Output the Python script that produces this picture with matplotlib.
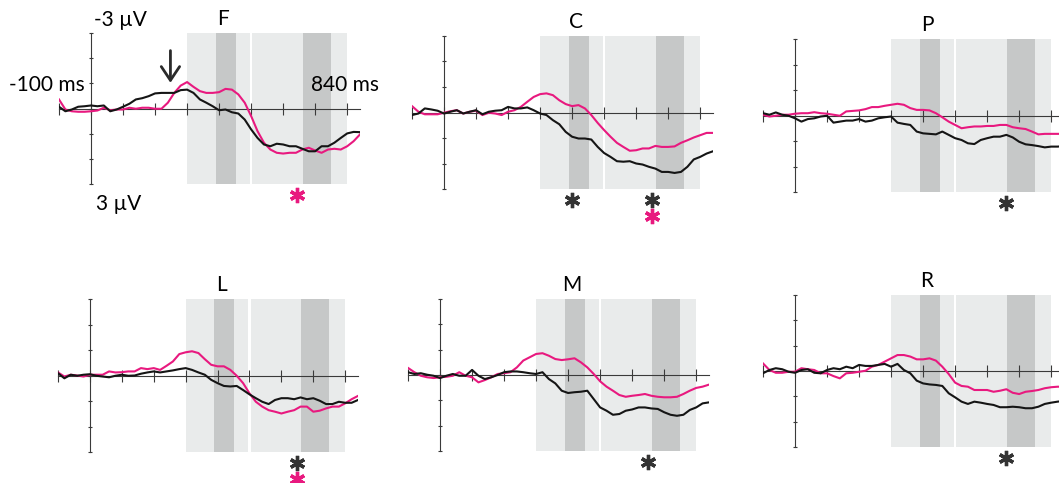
import matplotlib
matplotlib.use("Agg")
import matplotlib.pyplot as plt
import numpy as np

# ── Data ───────────────────────────────────────────────────────────────────
TIMES = np.arange(-100, 841, 20)  # ms, one sample every 20 ms

# Grand-average waveforms (µV), one pair per electrode region
WAVES = {
    "F": (
        [-0.07, 0.11, 0.04, -0.07, -0.09, -0.12, -0.09, -0.12, 0.11, 0.04, -0.07, -0.19,
         -0.36, -0.41, -0.49, -0.60, -0.62, -0.62, -0.62, -0.73, -0.75, -0.62, -0.36, -0.23,
         -0.09, 0.07, 0.04, 0.15, 0.20, 0.44, 0.83, 1.17, 1.43, 1.50, 1.40, 1.43,
         1.50, 1.50, 1.60, 1.70, 1.70, 1.50, 1.50, 1.36, 1.17, 0.99, 0.93, 0.94],
        [-0.36, 0.04, 0.11, 0.13, 0.13, 0.11, 0.08, -0.03, 0.07, 0.04, 0.04, -0.03,
         0.01, -0.03, -0.03, 0.01, 0.01, -0.23, -0.62, -0.91, -1.05, -0.86, -0.69, -0.62,
         -0.62, -0.65, -0.78, -0.75, -0.56, -0.23, 0.30, 0.90, 1.36, 1.63, 1.76, 1.79,
         1.76, 1.76, 1.63, 1.56, 1.67, 1.76, 1.63, 1.60, 1.63, 1.50, 1.30, 1.03],
    ),
    "C": (
        [0.10, 0.04, -0.16, -0.12, -0.07, 0.04, -0.03, -0.09, 0.04, -0.03, -0.09, 0.07,
         -0.03, -0.07, -0.09, -0.22, -0.16, -0.16, -0.20, -0.09, 0.04, 0.10, 0.30, 0.46,
         0.76, 0.95, 1.02, 1.02, 1.06, 1.35, 1.59, 1.74, 1.91, 1.93, 1.91, 2.00,
         2.04, 2.13, 2.20, 2.33, 2.33, 2.37, 2.33, 2.13, 1.84, 1.74, 1.61, 1.52],
        [-0.25, -0.03, 0.07, 0.07, 0.07, 0.01, -0.05, -0.09, 0.04, -0.03, -0.07, 0.10,
         0.01, 0.04, 0.10, -0.03, -0.09, -0.22, -0.42, -0.61, -0.72, -0.75, -0.68, -0.48,
         -0.33, -0.25, -0.29, -0.16, 0.10, 0.41, 0.69, 0.95, 1.19, 1.35, 1.50, 1.48,
         1.41, 1.41, 1.31, 1.35, 1.35, 1.33, 1.19, 1.09, 0.98, 0.89, 0.80, 0.80],
    ),
    "P": (
        [-0.09, -0.03, -0.12, -0.03, 0.01, 0.11, 0.24, 0.14, 0.11, 0.04, 0.01, 0.28,
         0.24, 0.20, 0.20, 0.14, 0.24, 0.20, 0.11, 0.07, 0.04, 0.28, 0.33, 0.37,
         0.63, 0.70, 0.72, 0.74, 0.63, 0.76, 0.89, 0.96, 1.09, 1.12, 0.96, 0.89,
         0.83, 0.83, 0.76, 0.86, 1.03, 1.13, 1.16, 1.20, 1.25, 1.22, 1.22, 1.20],
        [-0.03, 0.04, 0.01, -0.03, -0.03, -0.07, -0.09, -0.09, -0.13, -0.09, -0.07, -0.03,
         0.01, -0.16, -0.18, -0.20, -0.25, -0.33, -0.33, -0.38, -0.42, -0.46, -0.42, -0.29,
         -0.22, -0.22, -0.20, -0.09, 0.07, 0.24, 0.37, 0.50, 0.46, 0.43, 0.43, 0.41,
         0.41, 0.37, 0.37, 0.46, 0.50, 0.53, 0.63, 0.74, 0.72, 0.72, 0.72, 0.72],
    ),
    "L": (
        [-0.09, 0.11, -0.03, 0.01, -0.03, -0.05, 0.01, 0.04, 0.07, 0.01, -0.03, 0.01,
         0.00, -0.07, -0.12, -0.16, -0.12, -0.16, -0.20, -0.25, -0.29, -0.22, -0.12, -0.03,
         0.17, 0.30, 0.41, 0.43, 0.41, 0.57, 0.74, 0.89, 1.03, 1.12, 0.96, 0.89,
         0.89, 0.93, 0.86, 0.93, 0.89, 0.99, 1.12, 1.12, 1.03, 1.07, 1.07, 0.96],
        [-0.12, 0.04, -0.03, 0.00, 0.04, -0.03, -0.03, -0.03, -0.16, -0.12, -0.13, -0.16,
         -0.16, -0.29, -0.25, -0.29, -0.22, -0.38, -0.55, -0.84, -0.91, -0.95, -0.88, -0.64,
         -0.42, -0.36, -0.36, -0.22, 0.01, 0.30, 0.70, 1.03, 1.22, 1.36, 1.42, 1.49,
         1.42, 1.36, 1.22, 1.22, 1.42, 1.38, 1.29, 1.22, 1.22, 1.09, 0.93, 0.80],
    ),
    "M": (
        [-0.11, -0.04, -0.07, -0.01, 0.03, 0.12, 0.03, -0.04, 0.03, 0.03, -0.20, 0.03,
         0.16, 0.09, 0.00, -0.11, -0.14, -0.14, -0.11, -0.07, -0.04, -0.11, 0.16, 0.33,
         0.62, 0.71, 0.68, 0.66, 0.62, 0.95, 1.28, 1.41, 1.57, 1.54, 1.41, 1.36,
         1.28, 1.28, 1.32, 1.34, 1.47, 1.57, 1.61, 1.57, 1.38, 1.28, 1.12, 1.08],
        [-0.28, -0.11, 0.03, 0.09, 0.12, 0.09, 0.07, 0.03, -0.11, 0.03, 0.09, 0.29,
         0.20, 0.09, -0.04, -0.07, -0.11, -0.30, -0.57, -0.70, -0.83, -0.86, -0.76, -0.63,
         -0.59, -0.62, -0.66, -0.50, -0.30, -0.04, 0.25, 0.46, 0.62, 0.79, 0.86, 0.82,
         0.79, 0.75, 0.82, 0.86, 0.88, 0.88, 0.86, 0.75, 0.62, 0.51, 0.46, 0.38],
    ),
    "R": (
        [0.09, -0.04, -0.11, -0.07, 0.03, 0.07, -0.04, -0.07, 0.07, 0.09, -0.04, -0.11,
         -0.07, -0.17, -0.11, -0.24, -0.20, -0.20, -0.24, -0.28, -0.17, -0.28, -0.04, 0.09,
         0.38, 0.49, 0.53, 0.55, 0.59, 0.88, 1.04, 1.21, 1.30, 1.21, 1.25, 1.30,
         1.34, 1.43, 1.43, 1.41, 1.43, 1.47, 1.47, 1.41, 1.30, 1.25, 1.21, 1.18],
        [-0.30, -0.04, 0.07, 0.07, 0.03, 0.03, -0.11, -0.07, -0.04, 0.09, 0.09, 0.20,
         0.29, 0.09, 0.07, 0.03, -0.01, -0.17, -0.24, -0.37, -0.50, -0.63, -0.63, -0.57,
         -0.46, -0.46, -0.50, -0.41, -0.17, 0.12, 0.46, 0.59, 0.62, 0.75, 0.75, 0.75,
         0.82, 0.78, 0.72, 0.86, 0.91, 0.82, 0.79, 0.75, 0.68, 0.64, 0.62, 0.62],
    ),
}

# Analysis windows (ms): broad windows and the narrower windows inside them
BROAD_WINDOWS = [(300, 496), (504, 800)]
NARROW_WINDOWS = [(390, 452), (662, 750)]

# Significant effects: (time in ms, condition, row below the panel)
SIG_MARKS = {
    "F": [(642, "pink", 0)],
    "C": [(400, "black", 0), (650, "black", 0), (650, "pink", 1)],
    "P": [(660, "black", 0)],
    "L": [(650, "black", 0), (650, "pink", 1)],
    "M": [(650, "black", 0)],
    "R": [(660, "black", 0)],
}

# ── Style ──────────────────────────────────────────────────────────────────
BLACK = "#151515"
PINK = "#e8197f"
STAR_BLACK = "#333333"
AXIS = "#3a3a3a"
LIGHT = "#e9ebeb"
DARK = "#c6c8c8"
COLORS = {"black": STAR_BLACK, "pink": PINK}
FS = 15

plt.rcParams["font.family"] = ["Lato", "DejaVu Sans"]

W, H = 1059, 483
# panel boxes in pixels: left (-100 ms), top (-3 µV), right (840 ms), bottom (3 µV)
BOXES = {
    "F": (59, 33, 360, 184),
    "C": (412, 36, 713, 189),
    "P": (763, 39, 1064, 192),
    "L": (58, 299, 358, 452),
    "M": (408, 299, 709, 451),
    "R": (763, 295, 1064, 447),
}

fig = plt.figure(figsize=(W / 100, H / 100), dpi=100)

for name, (x0, y0, x1, y1) in BOXES.items():
    ax = fig.add_axes([x0 / W, 1 - y1 / H, (x1 - x0) / W, (y1 - y0) / H])
    ax.set_xlim(-100, 840)
    ax.set_ylim(3, -3)  # negative up
    ax.patch.set_alpha(0)

    for a, b in BROAD_WINDOWS:
        ax.axvspan(a, b, color=LIGHT, lw=0, zorder=0)
    for a, b in NARROW_WINDOWS:
        ax.axvspan(a, b, color=DARK, lw=0, zorder=0.5)

    black, pink = WAVES[name]
    ax.plot(TIMES, black, color=BLACK, lw=1.5, zorder=4)
    ax.plot(TIMES, pink, color=PINK, lw=1.5, zorder=3)

    # axes crossing at (0 ms, 0 µV)
    for side in ("top", "right"):
        ax.spines[side].set_visible(False)
    ax.spines["bottom"].set_position(("data", 0))
    ax.spines["left"].set_position(("data", 0))
    ax.spines["bottom"].set_bounds(-100, 840)
    ax.spines["left"].set_bounds(-3, 3)
    for side in ("bottom", "left"):
        ax.spines[side].set_color(AXIS)
        ax.spines[side].set_linewidth(0.8)
        ax.spines[side].set_zorder(2)
    ax.set_xticks(np.arange(-100, 801, 100))
    ax.set_yticks(np.arange(-3, 4, 1))
    ax.tick_params(axis="x", direction="inout", length=8, width=0.8, color=AXIS,
                   labelbottom=False)
    ax.tick_params(axis="y", direction="inout", length=3.5, width=0.8, color=AXIS,
                   labelleft=False)

    ax.text(412, -3.55, name, ha="center", va="center", fontsize=FS, clip_on=False)

    for t, cond, row in SIG_MARKS[name]:
        ax.plot(t, 3.45 + 0.6 * row, marker=(6, 2, 0), ms=11, mew=2.4,
                color=COLORS[cond], clip_on=False, zorder=5)

    if name == "F":
        ax.text(8, -3.5, "-3 \u00b5V", ha="left", va="center", fontsize=FS, clip_on=False)
        ax.text(15, 3.8, "3 \u00b5V", ha="left", va="center", fontsize=FS, clip_on=False)
        ax.text(-20, -0.95, "-100 ms", ha="right", va="center", fontsize=FS, clip_on=False)
        ax.text(686, -0.92, "840 ms", ha="left", va="center", fontsize=FS, clip_on=False)
        ax.annotate("", xy=(248, -1.02), xytext=(248, -2.3),
                    arrowprops=dict(arrowstyle="->, head_length=0.45, head_width=0.3",
                                    lw=2.0, color="#2a2a2a", mutation_scale=22,
                                    shrinkA=0, shrinkB=0),
                    annotation_clip=False)

fig.savefig("out.png", dpi=100)
